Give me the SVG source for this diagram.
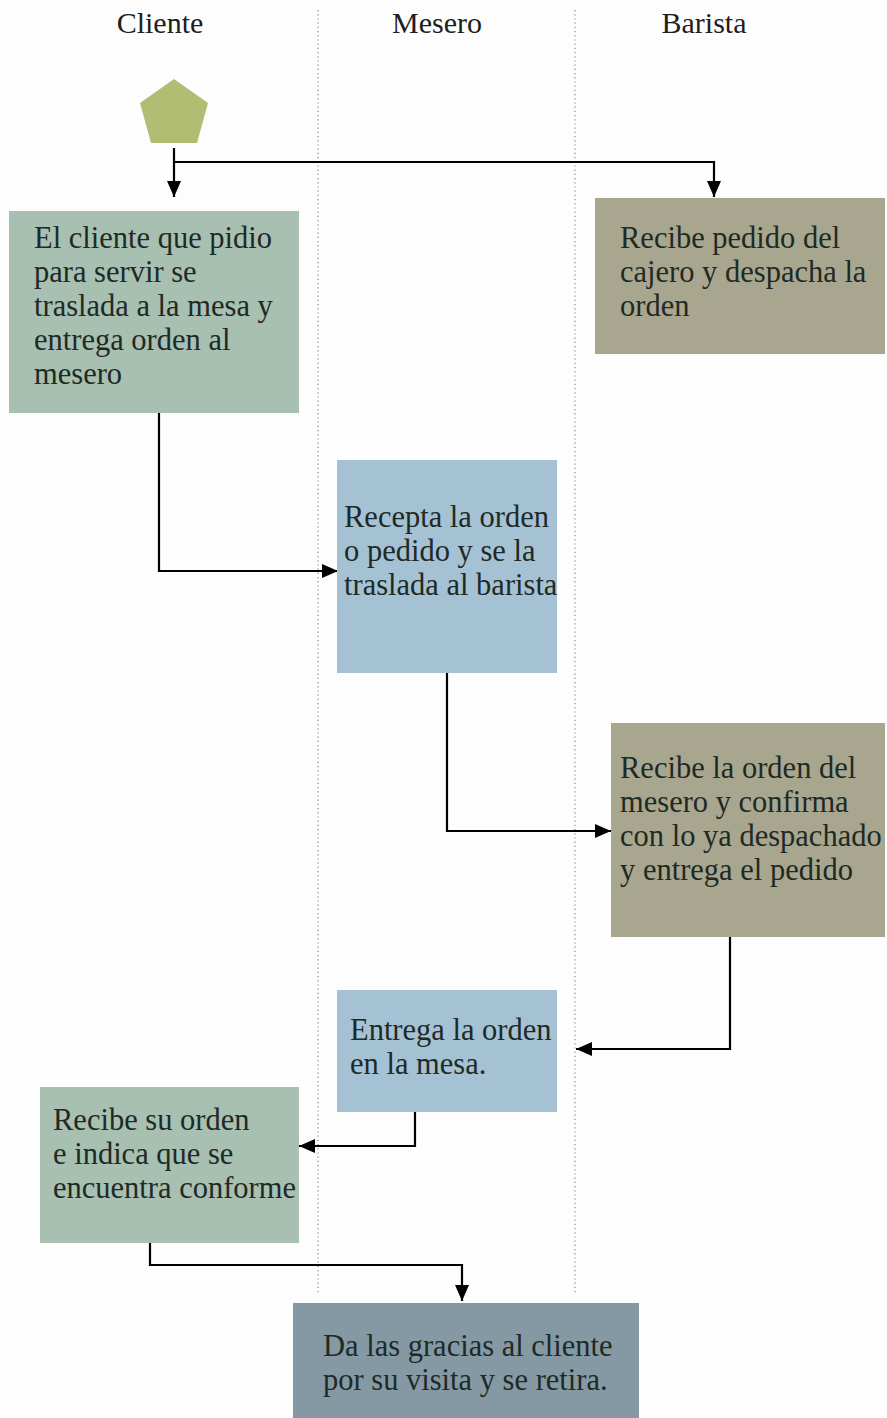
<svg xmlns="http://www.w3.org/2000/svg" width="887" height="1418" viewBox="0 0 887 1418">
  <style>
    .hdr { font-family: "Liberation Serif", "Times New Roman", serif; font-size: 30px; fill: #1e1e1e; text-anchor: middle; }
    .lbl { font-family: "Liberation Serif", "Times New Roman", serif; font-size: 30.5px; fill: #1f2a25; }
    .lane { stroke: #8a8a8a; stroke-width: 1.2; stroke-dasharray: 1.2 3; fill: none; }
    .conn { stroke: #000; stroke-width: 2.2; fill: none; marker-end: url(#arrow); }
    .cli { fill: #a7c0b2; }
    .mes { fill: #a5c2d4; }
    .bar { fill: #a8a68e; }
    .fin { fill: #8599a5; }
  </style>
  <defs>
    <marker id="arrow" viewBox="0 0 16 14" refX="16" refY="7" markerWidth="16" markerHeight="14" markerUnits="userSpaceOnUse" orient="auto">
      <path d="M0,0 L16,7 L0,14 Z" fill="#000"/>
    </marker>
  </defs>

  <rect width="887" height="1418" fill="#fdfdfd"/>

  <!-- swimlane headers and separators -->
  <g id="lanes">
    <text class="hdr" x="160" y="33">Cliente</text>
    <text class="hdr" x="437" y="33">Mesero</text>
    <text class="hdr" x="704" y="33">Barista</text>
    <line class="lane" x1="318" y1="10" x2="318" y2="1295"/>
    <line class="lane" x1="575" y1="10" x2="575" y2="1295"/>
  </g>

  <!-- connectors -->
  <g id="connectors">
    <line x1="174" y1="148" x2="174" y2="162" stroke="#000" stroke-width="2.2"/>
    <path class="conn" d="M174,162 V197"/>
    <path class="conn" d="M174,162 H714 V197"/>
    <path class="conn" d="M159,413 V571 H338"/>
    <path class="conn" d="M447,673 V831 H611"/>
    <path class="conn" d="M730,937 V1049 H576"/>
    <path class="conn" d="M415,1112 V1146 H299"/>
    <path class="conn" d="M150,1243 V1265 H462 V1301"/>
  </g>

  <!-- start -->
  <g id="start">
    <polygon points="174,79 208,103 197,143 151,143 140,103" fill="#b0bd72"/>
  </g>

  <g id="n1">
    <rect class="cli" x="9" y="211" width="290" height="202"/>
    <text class="lbl" x="34" y="248">El cliente que pidio</text>
    <text class="lbl" x="34" y="282">para servir se</text>
    <text class="lbl" x="34" y="316">traslada a la mesa y</text>
    <text class="lbl" x="34" y="350">entrega orden al</text>
    <text class="lbl" x="34" y="384">mesero</text>
  </g>

  <g id="n2">
    <rect class="bar" x="595" y="198" width="290" height="156"/>
    <text class="lbl" x="620" y="248">Recibe pedido del</text>
    <text class="lbl" x="620" y="282">cajero y despacha la</text>
    <text class="lbl" x="620" y="316">orden</text>
  </g>

  <g id="n3">
    <rect class="mes" x="337" y="460" width="220" height="213"/>
    <text class="lbl" x="344" y="527">Recepta la orden</text>
    <text class="lbl" x="344" y="561">o pedido y se la</text>
    <text class="lbl" x="344" y="595">traslada al barista</text>
  </g>

  <g id="n4">
    <rect class="bar" x="611" y="723" width="274" height="214"/>
    <text class="lbl" x="620" y="778">Recibe la orden del</text>
    <text class="lbl" x="620" y="812">mesero y confirma</text>
    <text class="lbl" x="620" y="846">con lo ya despachado</text>
    <text class="lbl" x="620" y="880">y entrega el pedido</text>
  </g>

  <g id="n5">
    <rect class="mes" x="337" y="990" width="220" height="122"/>
    <text class="lbl" x="350" y="1040">Entrega la orden</text>
    <text class="lbl" x="350" y="1074">en la mesa.</text>
  </g>

  <g id="n6">
    <rect class="cli" x="40" y="1087" width="259" height="156"/>
    <text class="lbl" x="53" y="1130">Recibe su orden</text>
    <text class="lbl" x="53" y="1164">e indica que se</text>
    <text class="lbl" x="53" y="1198">encuentra conforme</text>
  </g>

  <g id="n7">
    <rect class="fin" x="293" y="1303" width="346" height="115"/>
    <text class="lbl" x="323" y="1356">Da las gracias al cliente</text>
    <text class="lbl" x="323" y="1390">por su visita y se retira.</text>
  </g>
</svg>
